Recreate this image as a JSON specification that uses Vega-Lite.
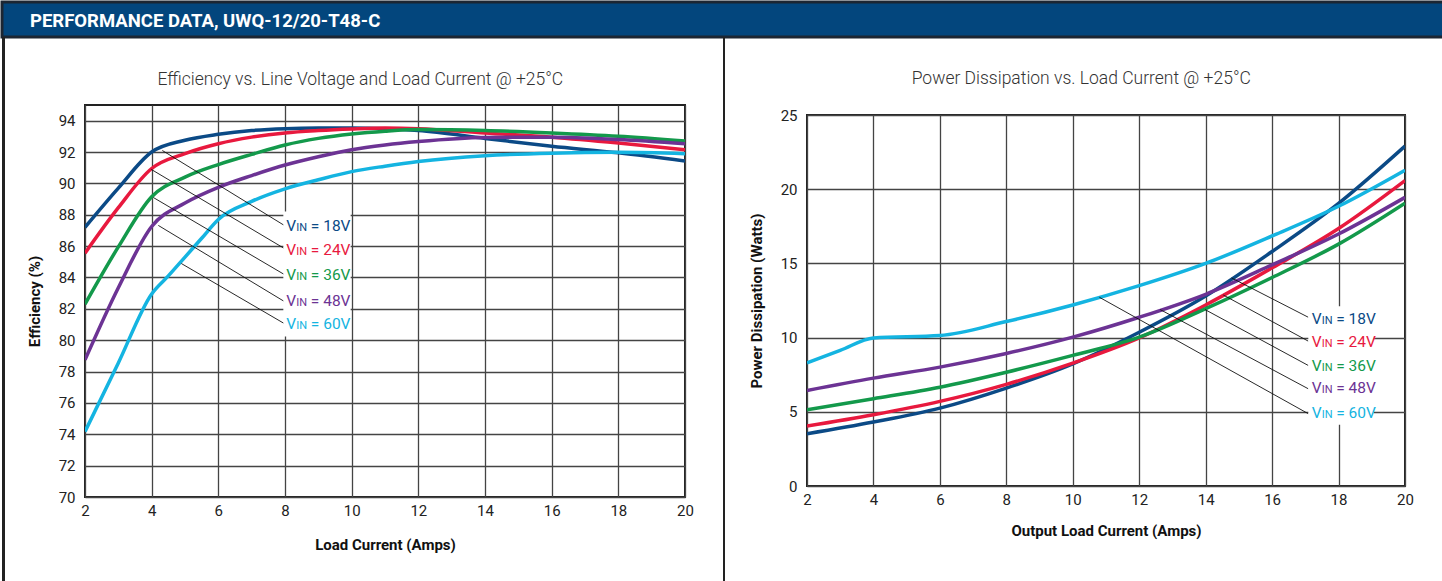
{
  "$schema": "https://vega.github.io/schema/vega-lite/v6.json",
  "padding": 0,
  "background": "white",
  "spacing": 0,
  "bounds": "flush",
  "datasets": {
    "eff": [
      {"v":"18V","i":2,"e":87.2},{"v":"18V","i":3,"e":89.7},{"v":"18V","i":4,"e":92.0},{"v":"18V","i":5,"e":92.75},{"v":"18V","i":6,"e":93.13},{"v":"18V","i":7,"e":93.37},{"v":"18V","i":8,"e":93.49},{"v":"18V","i":9,"e":93.53},{"v":"18V","i":10,"e":93.53},{"v":"18V","i":11,"e":93.49},{"v":"18V","i":12,"e":93.37},{"v":"18V","i":14,"e":92.87},{"v":"18V","i":16,"e":92.37},{"v":"18V","i":18,"e":91.95},{"v":"18V","i":20,"e":91.43},
      {"v":"24V","i":2,"e":85.55},{"v":"24V","i":3,"e":88.45},{"v":"24V","i":4,"e":90.95},{"v":"24V","i":5,"e":91.9},{"v":"24V","i":6,"e":92.53},{"v":"24V","i":7,"e":92.95},{"v":"24V","i":8,"e":93.22},{"v":"24V","i":9,"e":93.37},{"v":"24V","i":10,"e":93.47},{"v":"24V","i":11,"e":93.53},{"v":"24V","i":12,"e":93.49},{"v":"24V","i":14,"e":93.21},{"v":"24V","i":16,"e":92.95},{"v":"24V","i":18,"e":92.58},{"v":"24V","i":20,"e":92.15},
      {"v":"36V","i":2,"e":82.3},{"v":"36V","i":3,"e":85.95},{"v":"36V","i":4,"e":89.15},{"v":"36V","i":5,"e":90.4},{"v":"36V","i":6,"e":91.2},{"v":"36V","i":7,"e":91.85},{"v":"36V","i":8,"e":92.45},{"v":"36V","i":9,"e":92.87},{"v":"36V","i":10,"e":93.15},{"v":"36V","i":11,"e":93.33},{"v":"36V","i":12,"e":93.43},{"v":"36V","i":14,"e":93.37},{"v":"36V","i":16,"e":93.21},{"v":"36V","i":18,"e":93.0},{"v":"36V","i":20,"e":92.7},
      {"v":"48V","i":2,"e":78.75},{"v":"48V","i":3,"e":83.35},{"v":"48V","i":4,"e":87.25},{"v":"48V","i":5,"e":88.75},{"v":"48V","i":6,"e":89.75},{"v":"48V","i":7,"e":90.5},{"v":"48V","i":8,"e":91.17},{"v":"48V","i":9,"e":91.7},{"v":"48V","i":10,"e":92.15},{"v":"48V","i":11,"e":92.45},{"v":"48V","i":12,"e":92.67},{"v":"48V","i":14,"e":92.93},{"v":"48V","i":16,"e":92.95},{"v":"48V","i":18,"e":92.8},{"v":"48V","i":20,"e":92.53},
      {"v":"60V","i":2,"e":74.17},{"v":"60V","i":3,"e":78.55},{"v":"60V","i":4,"e":82.95},{"v":"60V","i":4.5,"e":84.1},{"v":"60V","i":5,"e":85.3},{"v":"60V","i":5.5,"e":86.5},{"v":"60V","i":6,"e":87.7},{"v":"60V","i":7,"e":88.85},{"v":"60V","i":8,"e":89.65},{"v":"60V","i":9,"e":90.23},{"v":"60V","i":10,"e":90.75},{"v":"60V","i":11,"e":91.1},{"v":"60V","i":12,"e":91.4},{"v":"60V","i":14,"e":91.77},{"v":"60V","i":16,"e":91.93},{"v":"60V","i":18,"e":91.98},{"v":"60V","i":20,"e":91.89}
    ],
    "pd": [
      {"v":"18V","i":2,"p":3.52},{"v":"18V","i":4,"p":4.31},{"v":"18V","i":6,"p":5.25},{"v":"18V","i":8,"p":6.6},{"v":"18V","i":10,"p":8.23},{"v":"18V","i":12,"p":10.36},{"v":"18V","i":14,"p":12.8},{"v":"18V","i":16,"p":15.8},{"v":"18V","i":18,"p":19.04},{"v":"18V","i":20,"p":22.9},
      {"v":"24V","i":2,"p":4.04},{"v":"24V","i":4,"p":4.8},{"v":"24V","i":6,"p":5.7},{"v":"24V","i":8,"p":6.85},{"v":"24V","i":10,"p":8.28},{"v":"24V","i":12,"p":9.98},{"v":"24V","i":14,"p":12.2},{"v":"24V","i":16,"p":14.7},{"v":"24V","i":18,"p":17.35},{"v":"24V","i":20,"p":20.58},
      {"v":"36V","i":2,"p":5.14},{"v":"36V","i":4,"p":5.88},{"v":"36V","i":6,"p":6.66},{"v":"36V","i":8,"p":7.67},{"v":"36V","i":10,"p":8.8},{"v":"36V","i":12,"p":10.03},{"v":"36V","i":14,"p":11.95},{"v":"36V","i":16,"p":14.05},{"v":"36V","i":18,"p":16.3},{"v":"36V","i":20,"p":19.06},
      {"v":"48V","i":2,"p":6.44},{"v":"48V","i":4,"p":7.27},{"v":"48V","i":6,"p":8.01},{"v":"48V","i":8,"p":8.93},{"v":"48V","i":10,"p":10.03},{"v":"48V","i":12,"p":11.37},{"v":"48V","i":14,"p":12.92},{"v":"48V","i":16,"p":14.9},{"v":"48V","i":18,"p":16.98},{"v":"48V","i":20,"p":19.45},
      {"v":"60V","i":2,"p":8.3},{"v":"60V","i":3,"p":9.14},{"v":"60V","i":4,"p":9.98},{"v":"60V","i":6,"p":10.14},{"v":"60V","i":8,"p":11.08},{"v":"60V","i":10,"p":12.2},{"v":"60V","i":12,"p":13.5},{"v":"60V","i":14,"p":15.0},{"v":"60V","i":16,"p":16.85},{"v":"60V","i":18,"p":18.85},{"v":"60V","i":20,"p":21.28}
    ],
    "effLab": [
      {"v":"18V","t":"= 18V","lx":8.04,"ly":87.32,"x1":4.32,"y1":92.1,"x2":7.98,"y2":87.32},
      {"v":"24V","t":"= 24V","lx":8.04,"ly":85.79,"x1":3.99,"y1":90.89,"x2":7.98,"y2":85.85},
      {"v":"36V","t":"= 36V","lx":8.04,"ly":84.19,"x1":4.05,"y1":89.1,"x2":7.98,"y2":84.19},
      {"v":"48V","t":"= 48V","lx":8.04,"ly":82.53,"x1":4.2,"y1":87.32,"x2":7.98,"y2":82.47},
      {"v":"60V","t":"= 60V","lx":8.04,"ly":81.06,"x1":4.89,"y1":84.89,"x2":7.98,"y2":81.06}
    ],
    "pdLab": [
      {"v":"18V","t":"= 18V","lx":17.19,"ly":11.31,"x1":14.78,"y1":14.02,"x2":17.09,"y2":11.37},
      {"v":"24V","t":"= 24V","lx":17.19,"ly":9.76,"x1":14.53,"y1":12.87,"x2":17.09,"y2":9.76},
      {"v":"36V","t":"= 36V","lx":17.19,"ly":8.14,"x1":13.98,"y1":11.89,"x2":17.09,"y2":8.12},
      {"v":"48V","t":"= 48V","lx":17.19,"ly":6.66,"x1":12.63,"y1":11.89,"x2":17.09,"y2":6.55},
      {"v":"60V","t":"= 60V","lx":17.19,"ly":4.98,"x1":10.8,"y1":12.72,"x2":17.09,"y2":4.87}
    ],
    "effBox": [{"xa":7.95,"xb":9.97,"ya":80.23,"yb":88.21}],
    "pdBox": [{"xa":17.09,"xb":19.06,"ya":4.13,"yb":12.11}],
    "one": [{"label":"PERFORMANCE DATA, UWQ-12/20-T48-C","pos":28}]
  },
  "vconcat": [
    {
      "width": 1442, "height": 35,
      "view": {"fill": "#03467d", "stroke": "#1c2633", "strokeWidth": 3},
      "data": {"name": "one"},
      "mark": {"type": "text", "align": "left", "baseline": "middle", "dy": 1.5, "color": "white", "font": "Roboto", "fontWeight": "bold", "fontSize": 18.5},
      "encoding": {
        "x": {"field": "pos", "type": "quantitative", "scale": {"domain": [0, 1442], "nice": false, "zero": false}, "axis": null},
        "text": {"field": "label"}
      }
    },
    {
      "hconcat": [
        {"width": 3, "height": 546, "view": {"fill": "#222222", "stroke": null}, "data": {"name": "one"}, "mark": {"type": "point", "opacity": 0}},
        {"width": 80, "height": 1, "view": {"stroke": null}, "data": {"name": "one"}, "mark": {"type": "point", "opacity": 0}},
        {
          "vconcat": [
            {"width": 600, "height": 68, "view": {"stroke": null}, "data": {"name": "one"}, "mark": {"type": "point", "opacity": 0}},
            {
              "width": 600, "height": 392,
              "title": {"text": "Efficiency vs. Line Voltage and Load Current @ +25°C", "offset": 17},
              "layer": [
                {
                  "data": {"name": "eff"},
                  "mark": {"type": "line", "interpolate": "monotone", "strokeWidth": 3.5, "clip": true},
                  "encoding": {
                    "x": {"field": "i", "type": "quantitative", "scale": {"domain": [2, 20], "nice": false, "zero": false}, "axis": {"values": [2,4,6,8,10,12,14,16,18,20], "tickCount": 10, "title": "Load Current (Amps)", "labelPadding": 6, "titlePadding": 19}},
                    "y": {"field": "e", "type": "quantitative", "scale": {"domain": [70, 95], "nice": false, "zero": false}, "axis": {"values": [70,72,74,76,78,80,82,84,86,88,90,92,94], "tickCount": 13, "title": "Efficiency (%)", "labelPadding": 10, "titlePadding": 16}},
                    "color": {"field": "v", "type": "nominal", "scale": {"domain": ["18V","24V","36V","48V","60V"], "range": ["#0b4a86","#e8193e","#13994b","#6c3394","#14b4e1"]}, "legend": null}
                  }
                },
                {
                  "data": {"name": "effLab"},
                  "mark": {"type": "rule", "color": "#111111", "strokeWidth": 0.9},
                  "encoding": {
                    "x": {"field": "x1", "type": "quantitative", "scale": {"domain": [2, 20], "nice": false, "zero": false}},
                    "y": {"field": "y1", "type": "quantitative", "scale": {"domain": [70, 95], "nice": false, "zero": false}},
                    "x2": {"field": "x2"},
                    "y2": {"field": "y2"}
                  }
                },
                {
                  "data": {"name": "effBox"},
                  "mark": {"type": "rect", "fill": "white"},
                  "encoding": {
                    "x": {"field": "xa", "type": "quantitative", "scale": {"domain": [2, 20], "nice": false, "zero": false}},
                    "x2": {"field": "xb"},
                    "y": {"field": "ya", "type": "quantitative", "scale": {"domain": [70, 95], "nice": false, "zero": false}},
                    "y2": {"field": "yb"}
                  }
                },
                {
                  "data": {"name": "effLab"},
                  "mark": {"type": "text", "text": "V", "align": "left", "baseline": "alphabetic", "dy": 5.5, "fontSize": 15.5, "font": "Roboto"},
                  "encoding": {
                    "x": {"field": "lx", "type": "quantitative", "scale": {"domain": [2, 20], "nice": false, "zero": false}},
                    "y": {"field": "ly", "type": "quantitative", "scale": {"domain": [70, 95], "nice": false, "zero": false}},
                    "color": {"field": "v", "type": "nominal", "legend": null}
                  }
                },
                {
                  "data": {"name": "effLab"},
                  "mark": {"type": "text", "text": "IN", "align": "left", "baseline": "alphabetic", "dx": 10, "dy": 5.5, "fontSize": 11, "font": "Roboto"},
                  "encoding": {
                    "x": {"field": "lx", "type": "quantitative", "scale": {"domain": [2, 20], "nice": false, "zero": false}},
                    "y": {"field": "ly", "type": "quantitative", "scale": {"domain": [70, 95], "nice": false, "zero": false}},
                    "color": {"field": "v", "type": "nominal", "legend": null}
                  }
                },
                {
                  "data": {"name": "effLab"},
                  "mark": {"type": "text", "align": "left", "baseline": "alphabetic", "dx": 24.5, "dy": 5.5, "fontSize": 15.5, "font": "Roboto"},
                  "encoding": {
                    "x": {"field": "lx", "type": "quantitative", "scale": {"domain": [2, 20], "nice": false, "zero": false}},
                    "y": {"field": "ly", "type": "quantitative", "scale": {"domain": [70, 95], "nice": false, "zero": false}},
                    "text": {"field": "t"},
                    "color": {"field": "v", "type": "nominal", "legend": null}
                  }
                }
              ]
            }
          ],
          "spacing": 0, "bounds": "flush"
        },
        {"width": 638, "height": 1, "view": {"stroke": null}, "data": {"name": "one"}, "mark": {"type": "point", "opacity": 0}},
        {"width": 2, "height": 546, "view": {"fill": "#222222", "stroke": null}, "data": {"name": "one"}, "mark": {"type": "point", "opacity": 0}},
        {"width": 82, "height": 1, "view": {"stroke": null}, "data": {"name": "one"}, "mark": {"type": "point", "opacity": 0}},
        {
          "vconcat": [
            {"width": 598, "height": 78, "view": {"stroke": null}, "data": {"name": "one"}, "mark": {"type": "point", "opacity": 0}},
            {
              "width": 598, "height": 371,
              "title": {"text": "Power Dissipation vs. Load Current @ +25°C", "offset": 21},
              "layer": [
                {
                  "data": {"name": "pd"},
                  "mark": {"type": "line", "interpolate": "monotone", "strokeWidth": 3.5, "clip": true},
                  "encoding": {
                    "x": {"field": "i", "type": "quantitative", "scale": {"domain": [2, 20], "nice": false, "zero": false}, "axis": {"values": [2,4,6,8,10,12,14,16,18,20], "tickCount": 10, "title": "Output Load Current (Amps)", "labelPadding": 6, "titlePadding": 16}},
                    "y": {"field": "p", "type": "quantitative", "scale": {"domain": [0, 25], "nice": false, "zero": false}, "axis": {"values": [0,5,10,15,20,25], "tickCount": 6, "title": "Power Dissipation (Watts)", "labelPadding": 10, "titlePadding": 16}},
                    "color": {"field": "v", "type": "nominal", "scale": {"domain": ["18V","24V","36V","48V","60V"], "range": ["#0b4a86","#e8193e","#13994b","#6c3394","#14b4e1"]}, "legend": null}
                  }
                },
                {
                  "data": {"name": "pdLab"},
                  "mark": {"type": "rule", "color": "#111111", "strokeWidth": 0.9},
                  "encoding": {
                    "x": {"field": "x1", "type": "quantitative", "scale": {"domain": [2, 20], "nice": false, "zero": false}},
                    "y": {"field": "y1", "type": "quantitative", "scale": {"domain": [0, 25], "nice": false, "zero": false}},
                    "x2": {"field": "x2"},
                    "y2": {"field": "y2"}
                  }
                },
                {
                  "data": {"name": "pdBox"},
                  "mark": {"type": "rect", "fill": "white"},
                  "encoding": {
                    "x": {"field": "xa", "type": "quantitative", "scale": {"domain": [2, 20], "nice": false, "zero": false}},
                    "x2": {"field": "xb"},
                    "y": {"field": "ya", "type": "quantitative", "scale": {"domain": [0, 25], "nice": false, "zero": false}},
                    "y2": {"field": "yb"}
                  }
                },
                {
                  "data": {"name": "pdLab"},
                  "mark": {"type": "text", "text": "V", "align": "left", "baseline": "alphabetic", "dy": 5.5, "fontSize": 15.5, "font": "Roboto"},
                  "encoding": {
                    "x": {"field": "lx", "type": "quantitative", "scale": {"domain": [2, 20], "nice": false, "zero": false}},
                    "y": {"field": "ly", "type": "quantitative", "scale": {"domain": [0, 25], "nice": false, "zero": false}},
                    "color": {"field": "v", "type": "nominal", "legend": null}
                  }
                },
                {
                  "data": {"name": "pdLab"},
                  "mark": {"type": "text", "text": "IN", "align": "left", "baseline": "alphabetic", "dx": 10, "dy": 5.5, "fontSize": 11, "font": "Roboto"},
                  "encoding": {
                    "x": {"field": "lx", "type": "quantitative", "scale": {"domain": [2, 20], "nice": false, "zero": false}},
                    "y": {"field": "ly", "type": "quantitative", "scale": {"domain": [0, 25], "nice": false, "zero": false}},
                    "color": {"field": "v", "type": "nominal", "legend": null}
                  }
                },
                {
                  "data": {"name": "pdLab"},
                  "mark": {"type": "text", "align": "left", "baseline": "alphabetic", "dx": 24.5, "dy": 5.5, "fontSize": 15.5, "font": "Roboto"},
                  "encoding": {
                    "x": {"field": "lx", "type": "quantitative", "scale": {"domain": [2, 20], "nice": false, "zero": false}},
                    "y": {"field": "ly", "type": "quantitative", "scale": {"domain": [0, 25], "nice": false, "zero": false}},
                    "text": {"field": "t"},
                    "color": {"field": "v", "type": "nominal", "legend": null}
                  }
                }
              ]
            }
          ],
          "spacing": 0, "bounds": "flush"
        },
        {"width": 637, "height": 1, "view": {"stroke": null}, "data": {"name": "one"}, "mark": {"type": "point", "opacity": 0}}
      ],
      "spacing": 0, "bounds": "flush"
    }
  ],
  "config": {
    "view": {"stroke": "#222222", "strokeWidth": 2},
    "axis": {
      "labelFont": "Roboto", "labelFontSize": 15, "labelColor": "#222222", "labelFlush": false, "labelOverlap": false,
      "titleFont": "Roboto", "titleFontSize": 15, "titleFontWeight": "bold", "titleColor": "#111111",
      "ticks": false, "domain": false, "grid": true, "gridColor": "#444444", "gridWidth": 1.3, "gridOpacity": 1
    },
    "title": {"font": "Roboto", "fontSize": 17.5, "fontWeight": 300, "color": "#333333", "frame": "bounds"},
    "concat": {"spacing": 0}
  }
}
